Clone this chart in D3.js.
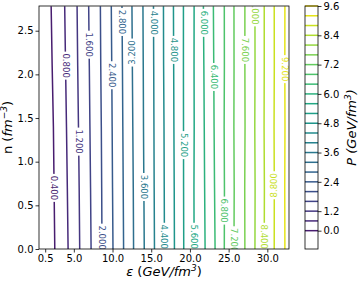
<!DOCTYPE html>
<html>
<head>
<meta charset="utf-8">
<script src="https://cdn.jsdelivr.net/npm/d3@7"></script>
<style>
  body { margin: 0; background: #fff; }
  text { font-family: "DejaVu Sans", sans-serif; }
</style>
</head>
<body>
<script>
// contour levels of P (GeV/fm^3)
var levels = [0.4, 0.8, 1.2, 1.6, 2.0, 2.4, 2.8, 3.2, 3.6, 4.0, 4.4, 4.8,
              5.2, 5.6, 6.0, 6.4, 6.8, 7.2, 7.6, 8.0, 8.4, 8.8, 9.2];

var nSamples = [0, 0.7, 1.4, 2.1, 2.78];

// epsilon of each contour at the nSamples (one row per level)
var epsRows = [
  [2.54, 2.45, 2.36, 2.20, 2.07],
  [4.26, 4.16, 4.05, 3.93, 3.82],
  [5.76, 5.69, 5.60, 5.50, 5.42],
  [7.23, 7.16, 7.08, 7.00, 6.92],
  [8.64, 8.60, 8.55, 8.48, 8.43],
  [10.06, 10.00, 9.95, 9.90, 9.84],
  [11.43, 11.38, 11.33, 11.28, 11.22],
  [12.72, 12.68, 12.62, 12.56, 12.51],
  [14.10, 14.05, 14.00, 13.97, 13.93],
  [15.42, 15.38, 15.35, 15.32, 15.29],
  [16.71, 16.68, 16.65, 16.60, 16.58],
  [18.00, 17.97, 17.93, 17.90, 17.87],
  [19.20, 19.18, 19.17, 19.16, 19.16],
  [20.54, 20.52, 20.55, 20.53, 20.54],
  [21.96, 21.90, 21.85, 21.80, 21.74],
  [23.25, 23.18, 23.12, 23.08, 23.03],
  [24.44, 24.46, 24.42, 24.45, 24.44],
  [25.69, 25.72, 25.68, 25.70, 25.69],
  [27.10, 27.08, 27.12, 27.10, 27.10],
  [28.40, 28.42, 28.38, 28.41, 28.40],
  [29.60, 29.62, 29.58, 29.60, 29.60],
  [30.89, 30.90, 30.87, 30.90, 30.89],
  [32.27, 32.25, 32.28, 32.26, 32.27]
];

// where the inline label sits on each contour (n), and whether it reads upward
var labelN  = [0.70, 2.10, 1.23, 2.34, 0.13, 1.99, 2.60, 2.25, 0.71, 2.59, 0.14, 2.28,
               1.19, 0.14, 2.59, 1.97, 0.44, 0.10, 2.28, 2.71, 0.14, 0.73, 2.06];
var labelUp = [0, 0, 0, 0, 0, 0, 0, 1, 0, 0, 0, 0,
               0, 0, 0, 0, 0, 0, 0, 0, 0, 1, 0];

var xTickValues = [1.3, 5, 10, 15, 20, 25, 30];
var xTickLabels = ["0.5", "5.0", "10.0", "15.0", "20.0", "25.0", "30.0"];
var yTickValues = [0, 0.5, 1.0, 1.5, 2.0, 2.5];
var yTickLabels = ["0.0", "0.5", "1.0", "1.5", "2.0", "2.5"];

// colorbar: lines at every level, ticks with the printed labels
var cbarLevels = [0.4, 0.8, 1.2, 1.6, 2.0, 2.4, 2.8, 3.2, 3.6, 4.0, 4.4, 4.8,
                  5.2, 5.6, 6.0, 6.4, 6.8, 7.2, 7.6, 8.0, 8.4, 8.8, 9.2, 9.6];
var cbarTickValues = [0.4, 1.2, 2.4, 3.6, 4.8, 6.0, 7.2, 8.4, 9.6];
var cbarTickLabels = ["0.0", "1.2", "2.4", "3.6", "4.8", "6.0", "7.2", "8.4", "9.6"];

var w = 362, h = 282;
var plotL = 39, plotR = 289, plotT = 6, plotB = 249;
var cbL = 305, cbR = 318;

var xScale = d3.scaleLinear().domain([0.5, 32.8]).range([plotL, plotR]);
var yScale = d3.scaleLinear().domain([0, 2.783]).range([plotB, plotT]);
var cbScale = d3.scaleLinear().domain([-0.35, 9.6]).range([plotB, plotT]);
var color = d3.scaleSequential(d3.interpolateViridis).domain([-0.4, 9.6]);

var svg = d3.select("body").append("svg")
    .attr("width", w)
    .attr("height", h);

svg.append("clipPath").attr("id", "clip")
  .append("rect")
    .attr("x", plotL).attr("y", plotT)
    .attr("width", plotR - plotL).attr("height", plotB - plotT);

var graph = svg.append("g").attr("clip-path", "url(#clip)");

var line = d3.line()
    .x(function(d) { return xScale(d[0]); })
    .y(function(d) { return yScale(d[1]); });

function contourPoints(i) {
  return nSamples.map(function(n, j) { return [epsRows[i][j], n]; });
}

function epsAt(i, n) {
  var pts = contourPoints(i);
  for (var j = 0; j < pts.length - 1; j++) {
    if (n >= pts[j][1] && n <= pts[j + 1][1]) {
      var t = (n - pts[j][1]) / (pts[j + 1][1] - pts[j][1]);
      return pts[j][0] + t * (pts[j + 1][0] - pts[j][0]);
    }
  }
  return pts[pts.length - 1][0];
}

graph.selectAll("path.contour")
  .data(levels)
  .enter()
  .append("path")
    .attr("class", "contour")
    .attr("d", function(d, i) { return line(contourPoints(i)); })
    .attr("fill", "none")
    .attr("stroke", function(d) { return color(d); })
    .attr("stroke-width", 1.5);

// inline labels: blank out the line underneath, then write the level
var labels = graph.selectAll("g.clabel")
  .data(levels)
  .enter()
  .append("g")
    .attr("class", "clabel")
    .attr("transform", function(d, i) {
      return "translate(" + xScale(epsAt(i, labelN[i])) + "," + yScale(labelN[i]) + ")" +
             " rotate(" + (labelUp[i] ? -90 : 90) + ")";
    });

labels.append("rect")
    .attr("x", -14).attr("y", -4)
    .attr("width", 28).attr("height", 8)
    .attr("fill", "white");

labels.append("text")
    .attr("text-anchor", "middle")
    .attr("dy", "0.35em")
    .attr("font-size", 8.5)
    .attr("fill", function(d) { return color(d); })
    .text(function(d) { return d.toFixed(3); });

// axes
var xAxis = svg.append("g")
    .attr("transform", "translate(0," + plotB + ")")
    .call(d3.axisBottom(xScale).tickValues(xTickValues)
      .tickFormat(function(d, i) { return xTickLabels[i]; })
      .tickSize(3.5).tickPadding(2));

var yAxis = svg.append("g")
    .attr("transform", "translate(" + plotL + ",0)")
    .call(d3.axisLeft(yScale).tickValues(yTickValues)
      .tickFormat(function(d, i) { return yTickLabels[i]; })
      .tickSize(3.5).tickPadding(2));

[xAxis, yAxis].forEach(function(a) {
  a.select(".domain").remove();
  a.selectAll("text").attr("font-size", 10).attr("fill", "black")
    .attr("font-family", "DejaVu Sans");
  a.selectAll("line").attr("stroke", "black").attr("stroke-width", 0.8);
});

svg.append("rect")
    .attr("x", plotL).attr("y", plotT)
    .attr("width", plotR - plotL).attr("height", plotB - plotT)
    .attr("fill", "none").attr("stroke", "black").attr("stroke-width", 0.8);

// axis labels
var xl = svg.append("text")
    .attr("x", (plotL + plotR) / 2).attr("y", 276)
    .attr("text-anchor", "middle").attr("font-size", 13);
xl.append("tspan").attr("font-style", "italic").text("\u03B5");
xl.append("tspan").text(" (");
xl.append("tspan").attr("font-style", "italic").text("GeV/fm");
xl.append("tspan").attr("font-style", "italic").attr("font-size", 9).attr("dy", -5).text("3");
xl.append("tspan").attr("dy", 5).text(")");

var yl = svg.append("text")
    .attr("transform", "translate(12," + ((plotT + plotB) / 2) + ") rotate(-90)")
    .attr("text-anchor", "middle").attr("font-size", 13);
yl.append("tspan").text("n (");
yl.append("tspan").attr("font-style", "italic").text("fm");
yl.append("tspan").attr("font-style", "italic").attr("font-size", 9).attr("dy", -5).text("\u22123");
yl.append("tspan").attr("dy", 5).text(")");

// colorbar
var cbar = svg.append("g");
cbar.selectAll("line.lev")
  .data(cbarLevels)
  .enter()
  .append("line")
    .attr("class", "lev")
    .attr("x1", cbL).attr("x2", cbR)
    .attr("y1", function(d) { return cbScale(d); })
    .attr("y2", function(d) { return cbScale(d); })
    .attr("stroke", function(d) { return color(d); })
    .attr("stroke-width", 1.5);

cbar.append("rect")
    .attr("x", cbL).attr("y", plotT)
    .attr("width", cbR - cbL).attr("height", plotB - plotT)
    .attr("fill", "none").attr("stroke", "black").attr("stroke-width", 0.8);

var cAxis = svg.append("g")
    .attr("transform", "translate(" + cbR + ",0)")
    .call(d3.axisRight(cbScale).tickValues(cbarTickValues)
      .tickFormat(function(d, i) { return cbarTickLabels[i]; })
      .tickSize(3.5).tickPadding(2));
cAxis.select(".domain").remove();
cAxis.selectAll("text").attr("font-size", 10).attr("fill", "black")
  .attr("font-family", "DejaVu Sans");
cAxis.selectAll("line").attr("stroke", "black").attr("stroke-width", 0.8);

var cl = svg.append("text")
    .attr("transform", "translate(356," + ((plotT + plotB) / 2) + ") rotate(-90)")
    .attr("text-anchor", "middle").attr("font-size", 13).attr("font-style", "italic");
cl.append("tspan").text("P (GeV/fm");
cl.append("tspan").attr("font-size", 9).attr("dy", -5).text("3");
cl.append("tspan").attr("dy", 5).text(")");
</script>
</body>
</html>
